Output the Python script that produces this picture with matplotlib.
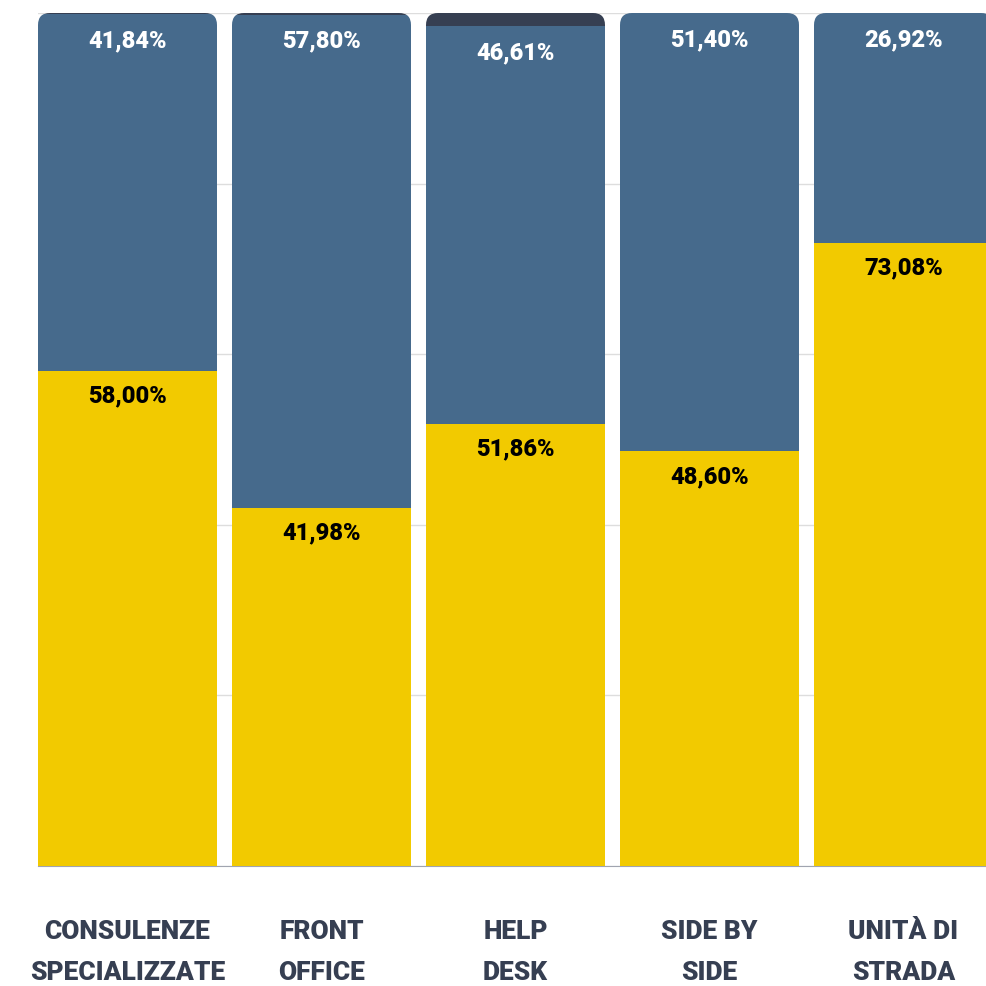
import matplotlib.pyplot as plt
from matplotlib.patches import FancyBboxPatch

# Dati
categorie = ["CONSULENZE\nSPECIALIZZATE", "FRONT\nOFFICE", "HELP\nDESK", "SIDE BY\nSIDE", "UNITÀ DI\nSTRADA"]
giallo_vals = [58.00, 41.98, 51.86, 48.60, 73.08]
blu_vals = [41.84, 57.80, 46.61, 51.40, 26.92]
scuro_vals = [0.16, 0.22, 1.53, 0.00, 0.00]

col_giallo = "#F2CA00"
col_blu = "#466A8C"
col_scuro = "#363F52"
col_testo = "#363F52"

W = 179 / 194

fig = plt.figure(figsize=(9.86, 9.86), dpi=100)
ax = fig.add_axes([38 / 986, 1 - 866 / 986, 948 / 986, 853 / 986])

x = list(range(len(categorie)))
b1 = ax.bar(x, giallo_vals, width=W, color=col_giallo, zorder=3)
b2 = ax.bar(x, blu_vals, width=W, bottom=giallo_vals, color=col_blu, zorder=3)
base3 = [g + b for g, b in zip(giallo_vals, blu_vals)]
b3 = ax.bar(x, scuro_vals, width=W, bottom=base3, color=col_scuro, zorder=3)

ax.set_xlim(-W / 2, -W / 2 + 948 / 194)
ax.set_ylim(0, 100)

# angoli arrotondati in alto
px_x = 194
px_y = 853 / 100
for i in x:
    tot = giallo_vals[i] + blu_vals[i] + scuro_vals[i]
    clip = FancyBboxPatch((i - W / 2, -20), W, tot + 20,
                          boxstyle="round,pad=0,rounding_size=%f" % (12 / px_x),
                          mutation_aspect=px_x / px_y,
                          transform=ax.transData, facecolor="none", edgecolor="none")
    ax.add_patch(clip)
    for bars in (b1, b2, b3):
        bars[i].set_clip_path(clip)

# etichette
fmt = lambda v: ("%.2f%%" % v).replace(".", ",")
for i in x:
    ax.annotate(fmt(giallo_vals[i]), (i, giallo_vals[i]), xytext=(0, -18),
                textcoords="offset points", ha="center", va="center",
                fontsize=17, fontweight="heavy", family="Roboto", color="black", zorder=5)
    ax.annotate(fmt(blu_vals[i]), (i, giallo_vals[i] + blu_vals[i]), xytext=(0, -19),
                textcoords="offset points", ha="center", va="center",
                fontsize=17, fontweight="heavy", family="Roboto", color="white", zorder=5)

ax.set_yticks([0, 20, 40, 60, 80, 100])
ax.yaxis.grid(True, color="#dddddd", linewidth=1, zorder=0)
ax.tick_params(axis="y", left=False, labelleft=False)
ax.set_xticks(x)
ax.set_xticklabels(categorie, fontsize=19, fontweight="heavy", family="Roboto",
                   color=col_testo, linespacing=1.9)
ax.tick_params(axis="x", length=0, pad=39)
for s in ["top", "left", "right"]:
    ax.spines[s].set_visible(False)
ax.spines["bottom"].set_color("#a0a4b0")
ax.spines["bottom"].set_zorder(1)

fig.savefig("out.png", dpi=100)
